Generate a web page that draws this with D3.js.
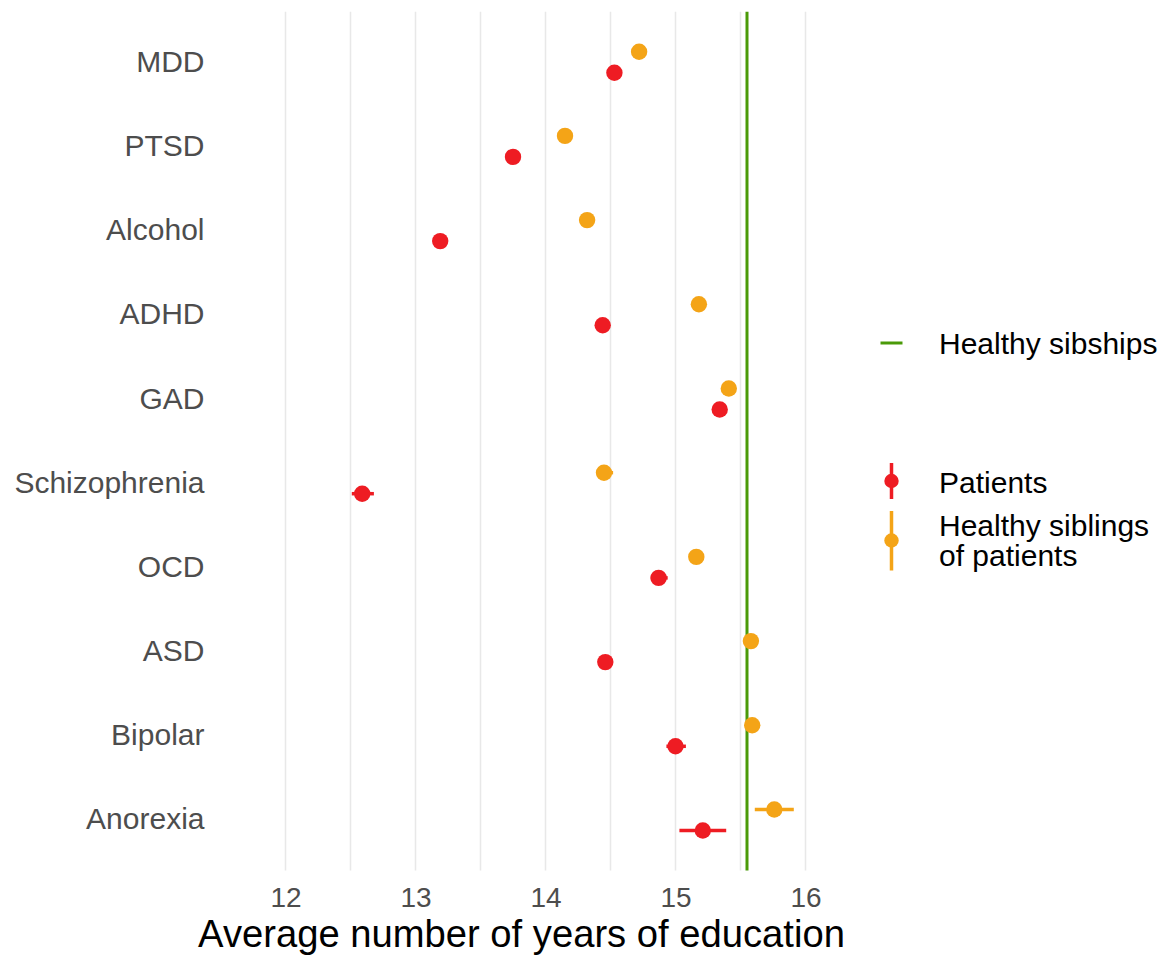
<!DOCTYPE html>
<html>
<head>
<meta charset="utf-8">
<script src="https://cdn.jsdelivr.net/npm/d3@7/dist/d3.min.js"></script>
<style>
  html, body { margin: 0; padding: 0; background: #ffffff; }
  svg { display: block; font-family: "Liberation Sans", Arial, sans-serif; }
</style>
</head>
<body>
<svg id="chart" width="1166" height="957"></svg>
<script>
// ---- data ----
const categories = ["MDD", "PTSD", "Alcohol", "ADHD", "GAD", "Schizophrenia", "OCD", "ASD", "Bipolar", "Anorexia"];

const patientMean = [14.53, 13.75, 13.19, 14.44, 15.34, 12.59, 14.87, 14.46, 15.00, 15.21];
const patientLow  = [14.50, 13.72, 13.16, 14.41, 15.31, 12.51, 14.81, 14.43, 14.93, 15.03];
const patientHigh = [14.56, 13.78, 13.22, 14.47, 15.37, 12.68, 14.94, 14.49, 15.08, 15.39];

const siblingMean = [14.72, 14.15, 14.32, 15.18, 15.41, 14.45, 15.16, 15.58, 15.59, 15.76];
const siblingLow  = [14.69, 14.12, 14.29, 15.15, 15.38, 14.39, 15.13, 15.55, 15.56, 15.61];
const siblingHigh = [14.75, 14.18, 14.35, 15.21, 15.44, 14.52, 15.19, 15.61, 15.62, 15.91];

const healthySibships = 15.55;

const xTicks = [12, 13, 14, 15, 16];
const xGrid = [12, 12.5, 13, 13.5, 14, 14.5, 15, 15.5, 16];

const seriesNames = ["Patients", "Healthy siblings of patients"];
const legendLineLabel = "Healthy sibships";
const xTitle = "Average number of years of education";

// ---- styles ----
const RED = "#ee1c23";
const ORANGE = "#f4a417";
const GREEN = "#4a9a08";

const svg = d3.select("#chart");

const panel = { left: 230, right: 840, top: 11.7, bottom: 870.5 };

const x = d3.scaleLinear().domain([12, 16]).range([285.5, 805.5]);
const y = d3.scalePoint().domain(categories).range([panel.top, panel.bottom]).padding(0.6);
const dodge = 10.5;

// gridlines
svg.append("g").selectAll("line").data(xGrid).join("line")
  .attr("x1", d => x(d)).attr("x2", d => x(d))
  .attr("y1", panel.top).attr("y2", panel.bottom)
  .attr("stroke", "#e8e8e8").attr("stroke-width", 1.5);

// healthy sibships reference line
svg.append("line")
  .attr("x1", x(healthySibships)).attr("x2", x(healthySibships))
  .attr("y1", panel.top).attr("y2", panel.bottom)
  .attr("stroke", GREEN).attr("stroke-width", 3);

// build series
const series = [
  { name: seriesNames[0], color: RED, offset: dodge, mean: patientMean, low: patientLow, high: patientHigh },
  { name: seriesNames[1], color: ORANGE, offset: -dodge, mean: siblingMean, low: siblingLow, high: siblingHigh }
];

series.forEach(s => {
  const rows = categories.map((c, i) => ({ c, m: s.mean[i], lo: s.low[i], hi: s.high[i] }));
  const g = svg.append("g");
  g.selectAll("line").data(rows).join("line")
    .attr("x1", d => x(d.lo)).attr("x2", d => x(d.hi))
    .attr("y1", d => y(d.c) + s.offset).attr("y2", d => y(d.c) + s.offset)
    .attr("stroke", s.color).attr("stroke-width", 3.5);
  g.selectAll("circle").data(rows).join("circle")
    .attr("cx", d => x(d.m)).attr("cy", d => y(d.c) + s.offset)
    .attr("r", 8.2).attr("fill", s.color);
});

// y axis
const yAxis = svg.append("g")
  .attr("transform", `translate(215,0)`)
  .call(d3.axisLeft(y).tickSize(0).tickPadding(10.5));
yAxis.select(".domain").remove();
yAxis.selectAll("text")
  .attr("font-size", 30).attr("fill", "#4d4d4d")
  .attr("font-family", "Liberation Sans, Arial, sans-serif")
  .attr("dy", "0.3em");

// x axis
const xAxis = svg.append("g")
  .attr("transform", `translate(0,${panel.bottom})`)
  .call(d3.axisBottom(x).tickValues(xTicks).tickFormat(d3.format("d")).tickSize(0).tickPadding(0));
xAxis.select(".domain").remove();
xAxis.selectAll("text")
  .attr("font-size", 28).attr("fill", "#4d4d4d")
  .attr("font-family", "Liberation Sans, Arial, sans-serif")
  .attr("y", 36.5).attr("dy", 0);

// x title
svg.append("text")
  .attr("x", 521.5).attr("y", 947)
  .attr("text-anchor", "middle")
  .attr("font-size", 38.2).attr("fill", "#000")
  .text(xTitle);

// legend: reference line
const lg = svg.append("g");
lg.append("line").attr("x1", 880.5).attr("x2", 902.5).attr("y1", 343).attr("y2", 343)
  .attr("stroke", GREEN).attr("stroke-width", 3);
lg.append("text").attr("x", 939).attr("y", 353.5).attr("font-size", 30).attr("fill", "#000")
  .text(legendLineLabel);

// legend: series
const legendItems = [
  { color: RED, cy: 481, y1: 463, y2: 499, lines: ["Patients"], ty: 492.5 },
  { color: ORANGE, cy: 540.5, y1: 511, y2: 570.5, lines: ["Healthy siblings", "of patients"], ty: 536 }
];
legendItems.forEach((it, k) => {
  lg.append("line").attr("x1", 891.5).attr("x2", 891.5).attr("y1", it.y1).attr("y2", it.y2)
    .attr("stroke", it.color).attr("stroke-width", 3.5);
  lg.append("circle").attr("cx", 891.5).attr("cy", it.cy).attr("r", 7.2).attr("fill", it.color);
  const t = lg.append("text").attr("x", 939).attr("y", it.ty).attr("font-size", 30).attr("fill", "#000");
  it.lines.forEach((ln, j) => {
    t.append("tspan").attr("x", 939).attr("dy", j === 0 ? 0 : 30).text(ln);
  });
});
</script>
</body>
</html>
